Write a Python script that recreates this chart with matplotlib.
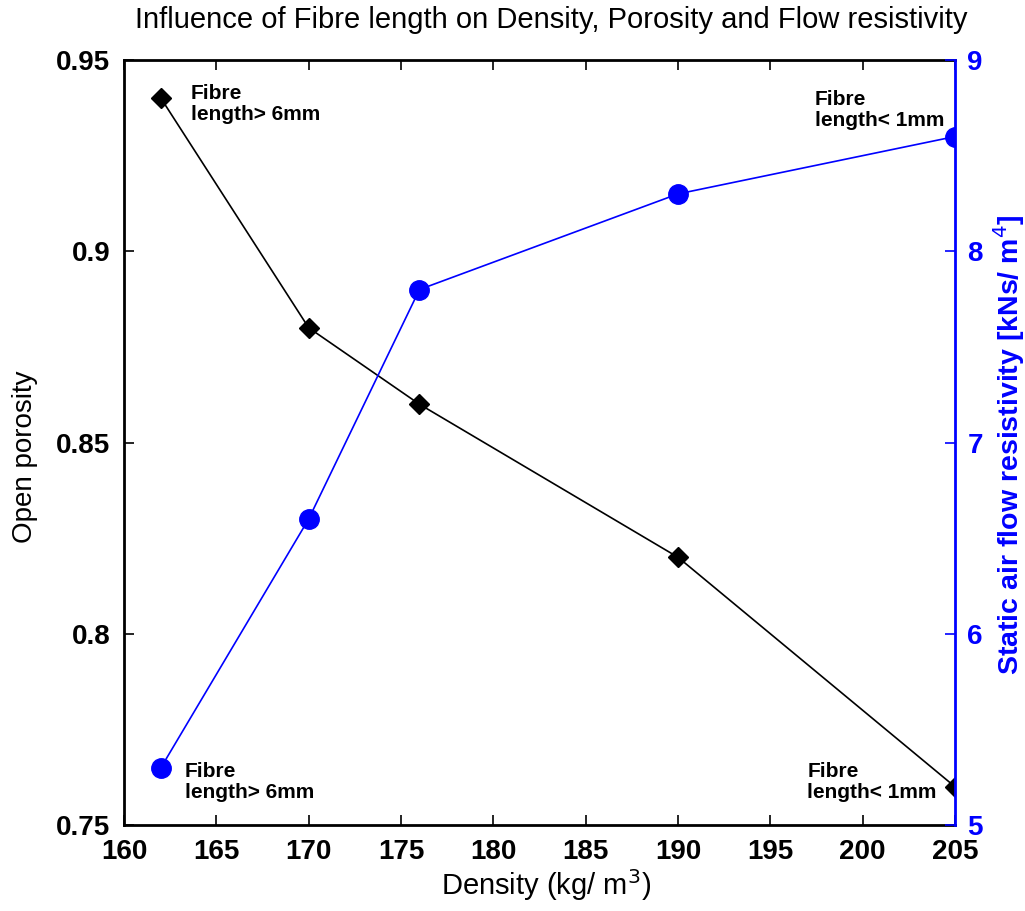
import matplotlib
matplotlib.use("Agg")
import matplotlib.pyplot as plt

plt.rcParams['font.family'] = ['Liberation Sans', 'DejaVu Sans']

# Data
density = [162, 170, 176, 190, 205]
porosity = [0.94, 0.88, 0.86, 0.82, 0.76]
resistivity = [5.3, 6.6, 7.8, 8.3, 8.6]

x_ticks = [160, 165, 170, 175, 180, 185, 190, 195, 200, 205]
left_ticks = [0.75, 0.8, 0.85, 0.9, 0.95]
left_tick_labels = ['0.75', '0.8', '0.85', '0.9', '0.95']
right_ticks = [5, 6, 7, 8, 9]

blue = '#0000ff'

fig = plt.figure(figsize=(10.25, 9.11), dpi=100)
ax = fig.add_axes([0.121, 0.0944, 0.8107, 0.8397])
ax2 = ax.twinx()

ax.plot(density, porosity, color='black', lw=1.2, marker='D', ms=10.5,
        mfc='black', mec='black', zorder=3)
ax2.plot(density, resistivity, color=blue, lw=1.2, marker='o', ms=14,
         mfc=blue, mec=blue, zorder=3)

ax.set_xlim(160, 205)
ax.set_ylim(0.75, 0.95)
ax2.set_ylim(5, 9)

ax.set_xticks(x_ticks)
ax.set_xticklabels([str(t) for t in x_ticks], fontsize=20, fontweight='bold')
ax.set_yticks(left_ticks)
ax.set_yticklabels(left_tick_labels, fontsize=20, fontweight='bold')
ax2.set_yticks(right_ticks)
ax2.set_yticklabels([str(t) for t in right_ticks], fontsize=20,
                    fontweight='bold', color=blue)

ax.tick_params(direction='in', length=7, width=1.2, pad=10)
ax.tick_params(axis='x', top=True, labeltop=False)
ax.tick_params(axis='y', right=False)
ax2.tick_params(direction='in', length=7, width=1.2, colors=blue, pad=9)

for s in ['left', 'bottom', 'top']:
    ax.spines[s].set_linewidth(2)
    ax.spines[s].set_color('black')
ax2.spines['right'].set_color(blue)
ax2.spines['right'].set_linewidth(2)
ax2.spines['left'].set_visible(False)
ax2.spines['top'].set_visible(False)
ax2.spines['bottom'].set_visible(False)
ax.spines['right'].set_visible(False)

ax.set_xlabel('Density (kg/ m$^3$)', fontsize=21, va='center')
ax.xaxis.set_label_coords(0.508, -0.078)
ax.set_ylabel('Open porosity', fontsize=20, va='center')
ax.yaxis.set_label_coords(-0.119, 0.482)
ax2.set_ylabel('Static air flow resistivity [kNs/ m$^4$]', fontsize=20.5,
               fontweight='bold', color=blue, va='center')
ax2.yaxis.set_label_coords(1.065, 0.497)

fig.text(0.5376, 0.978,
         'Influence of Fibre length on Density, Porosity and Flow resistivity',
         fontsize=21, ha='center', va='center')

ann_kw = dict(fontsize=15, fontweight='bold', va='center', ha='left',
              linespacing=1.15)
ax.text(163.6, 0.9385, 'Fibre\nlength> 6mm', **ann_kw)
ax.text(197.4, 0.937, 'Fibre\nlength< 1mm', **ann_kw)
ax.text(163.3, 0.7612, 'Fibre\nlength> 6mm', **ann_kw)
ax.text(197.0, 0.7612, 'Fibre\nlength< 1mm', **ann_kw)

fig.savefig('out.png', dpi=100)
